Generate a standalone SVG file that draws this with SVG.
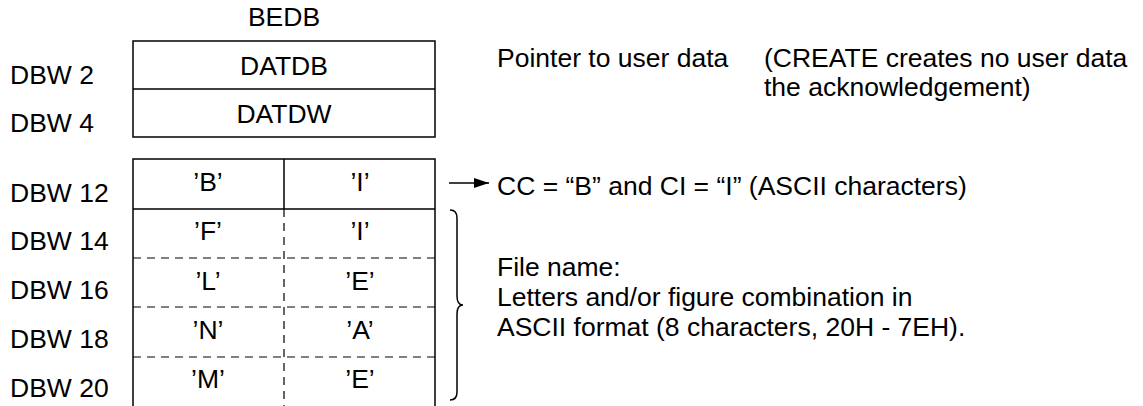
<svg xmlns="http://www.w3.org/2000/svg" width="1143" height="406" viewBox="0 0 1143 406">
  <style>
    text { font-family: "Liberation Sans", Arial, sans-serif; font-size: 26.5px; fill: #000; }
    .c { text-anchor: middle; }
    .solid { fill: none; stroke: #000; stroke-width: 1.5; }
    .dash { fill: none; stroke: #000; stroke-width: 1.2; stroke-dasharray: 8 6; }
    .conn { fill: none; stroke: #000; stroke-width: 1.5; }
  </style>
  <defs>
    <marker id="arrow" viewBox="0 0 15 10" refX="15" refY="5" markerWidth="15" markerHeight="10" markerUnits="userSpaceOnUse" orient="auto">
      <path d="M0,0 L15,5 L0,10 z" fill="#000"/>
    </marker>
  </defs>

  <!-- block header -->
  <g id="header">
    <text class="c" x="284" y="26">BEDB</text>
  </g>

  <!-- pointer words -->
  <g id="pointer-block">
    <rect class="solid" x="133" y="41" width="302" height="96"/>
    <line class="solid" x1="133" y1="89" x2="435" y2="89"/>
    <text class="c" x="284" y="75">DATDB</text>
    <text class="c" x="284" y="123">DATDW</text>
    <text x="10" y="84">DBW 2</text>
    <text x="10" y="132">DBW 4</text>
  </g>

  <!-- character table -->
  <g id="char-table">
    <path class="solid" d="M133,406 V159 H435 V406 M133,209 H435 M284,159 V209"/>
    <path class="dash" d="M133,258 H435 M133,307 H435 M133,357 H435 M284,209 V406"/>
    <text class="c" x="208" y="191">’B’</text>
    <text class="c" x="360" y="191">’I’</text>
    <text class="c" x="208" y="240">’F’</text>
    <text class="c" x="360" y="240">’I’</text>
    <text class="c" x="208" y="290">’L’</text>
    <text class="c" x="360" y="290">’E’</text>
    <text class="c" x="208" y="339">’N’</text>
    <text class="c" x="360" y="339">’A’</text>
    <text class="c" x="208" y="388">’M’</text>
    <text class="c" x="360" y="388">’E’</text>
    <text x="10" y="202">DBW 12</text>
    <text x="10" y="250">DBW 14</text>
    <text x="10" y="299">DBW 16</text>
    <text x="10" y="348">DBW 18</text>
    <text x="10" y="397">DBW 20</text>
  </g>

  <!-- notes -->
  <g id="note-pointer">
    <text x="497" y="67">Pointer to user data</text>
    <text x="764" y="67">(CREATE creates no user data</text>
    <text x="764" y="96">the acknowledgement)</text>
  </g>
  <g id="note-cc">
    <text x="497" y="195">CC = “B” and CI = “I” (ASCII characters)</text>
  </g>
  <g id="note-filename">
    <text x="497" y="276">File name:</text>
    <text x="497" y="306">Letters and/or figure combination in</text>
    <text x="497" y="336">ASCII format (8 characters, 20H - 7EH).</text>
  </g>

  <!-- connectors -->
  <g id="connectors">
    <line class="conn" x1="449" y1="183" x2="489" y2="183" marker-end="url(#arrow)"/>
    <path class="conn" d="M450,210 Q457,210 457,218 V296 Q457,305 463,305 Q457,305 457,314 V392 Q457,400 450,400"/>
  </g>
</svg>
